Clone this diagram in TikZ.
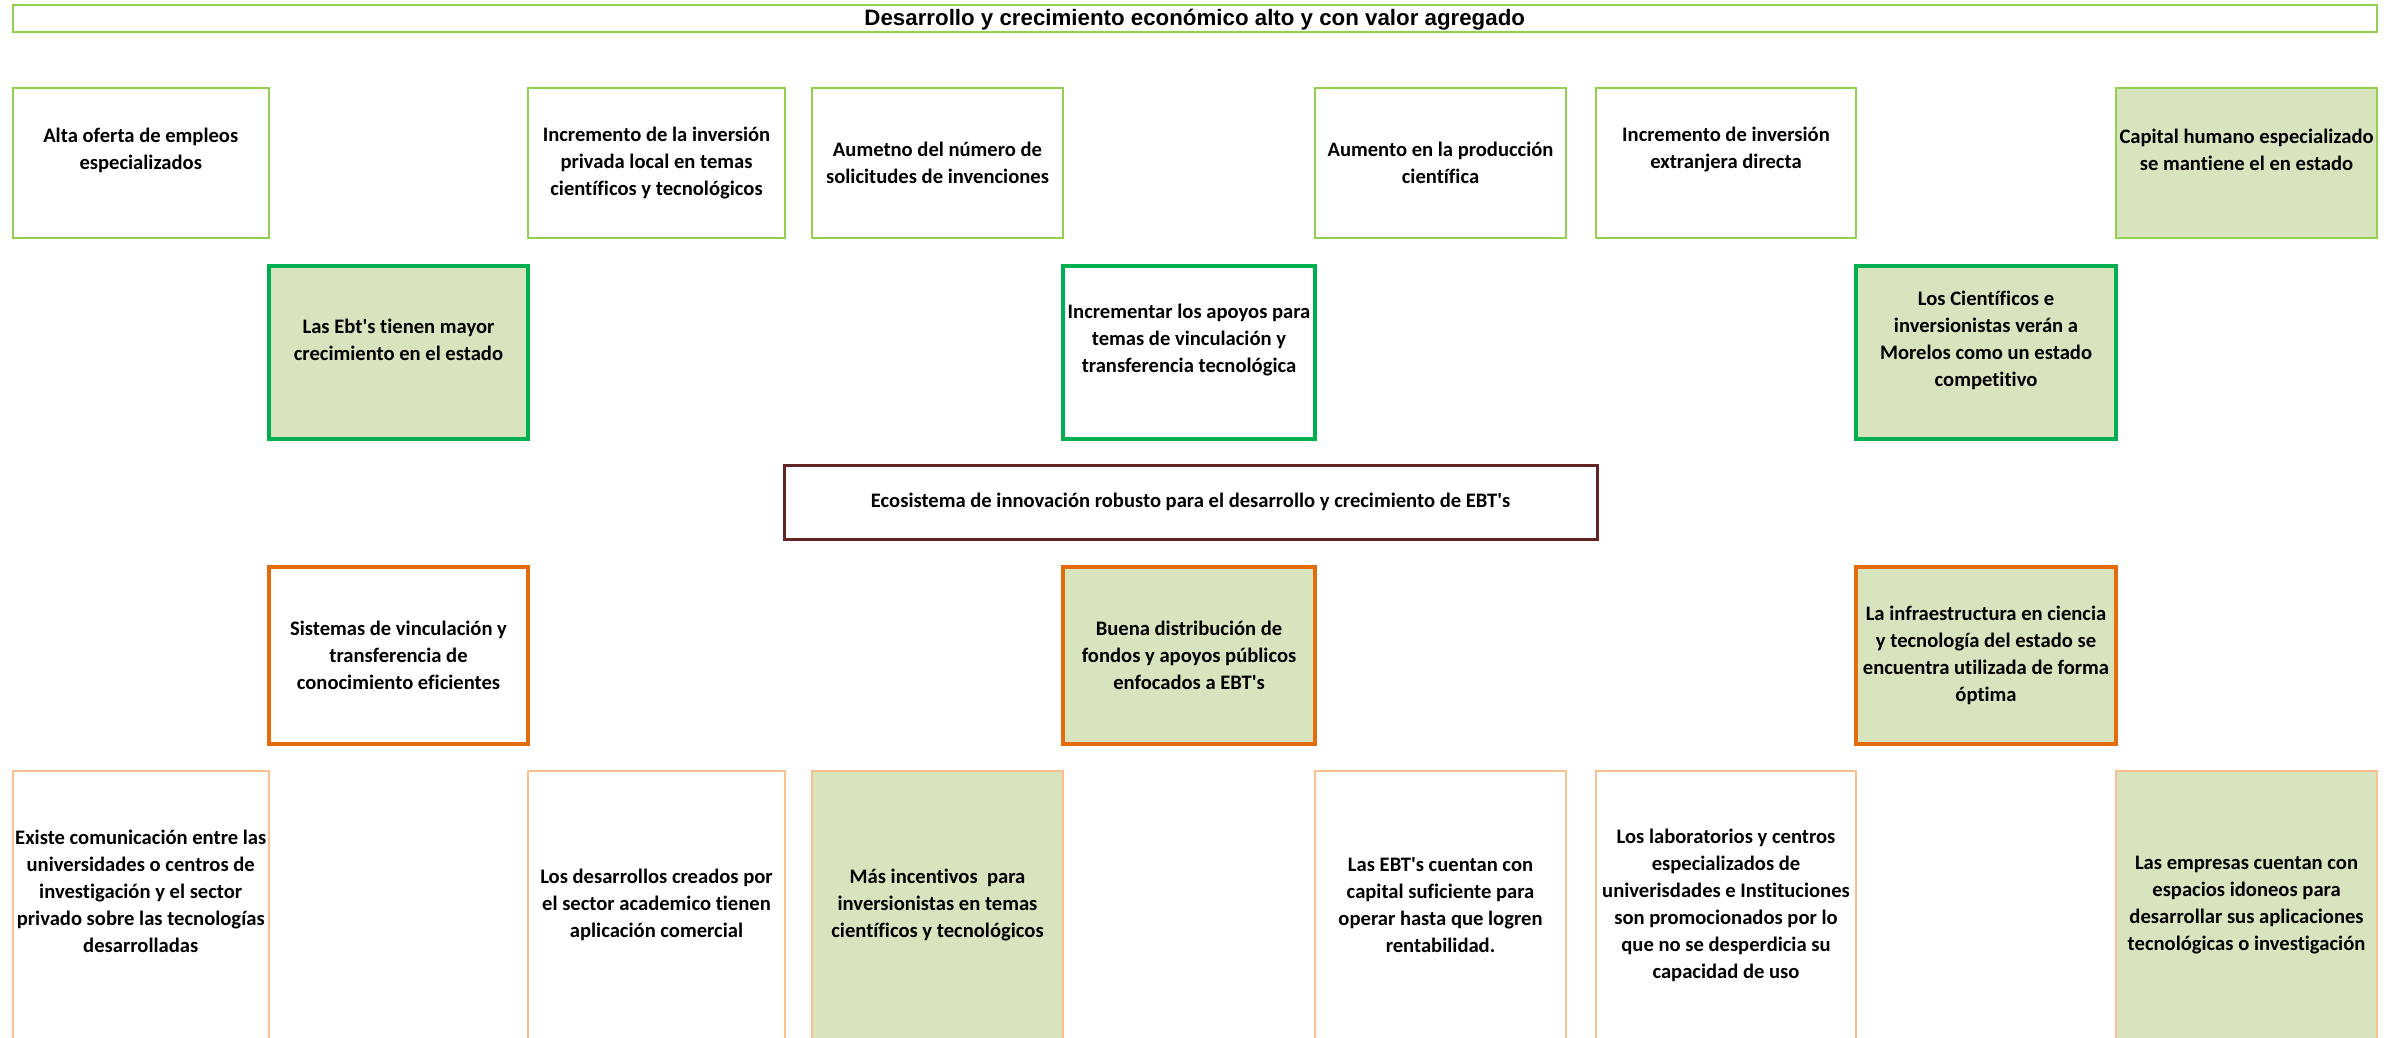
\documentclass[tikz,border=0pt]{standalone}
\usepackage{fontspec}
\setmainfont{Carlito}[Ligatures=NoCommon]
\newfontfamily\titlefont{Liberation Sans}
\definecolor{lgreen}{HTML}{92D050}
\definecolor{dgreen}{HTML}{00B050}
\definecolor{wine}{HTML}{632523}
\definecolor{dorange}{HTML}{E46C0A}
\definecolor{lorange}{HTML}{FAC090}
\definecolor{olivefill}{HTML}{D7E4BD}
\newcommand{\ap}{\textquotesingle}
\tikzset{
  box/.style={draw, rectangle, inner sep=0pt, outer sep=0pt, fill=white},
  hit/.style={fill=olivefill},
  goalbox/.style={box, draw=lgreen, line width=2pt, minimum height=150pt},
  keybox/.style={box, draw=dgreen, line width=4pt, minimum height=173pt},
  corebox/.style={box, draw=wine, line width=3pt, minimum height=74pt},
  causebox/.style={box, draw=dorange, line width=4pt, minimum height=177pt},
  rootbox/.style={box, draw=lorange, line width=2pt, minimum height=268pt},
  txt/.style={align=center, inner sep=0pt, font=\bfseries\fontsize{20.6}{27}\selectfont},
  titletxt/.style={inner sep=0pt, font=\titlefont\bfseries\fontsize{22.3}{26}\selectfont}
}
\begin{document}
\begin{tikzpicture}[x=1pt, y=-1pt]
\useasboundingbox (0,0) rectangle (2392,1037);
\clip (0,0) rectangle (2392,1037);
% fin
\node[goalbox, minimum width=2364.5pt, minimum height=27pt] (fin) at (1194.75,18.5) {};
\node[titletxt] (fin-t) at ([yshift=-1.5pt]fin.center) {Desarrollo y crecimiento económico alto y con valor agregado};
% efectos
\node[goalbox, minimum width=256.5pt] (empleo) at (140.75,163) {};
\node[txt] (empleo-t) at ([yshift=13pt]empleo.center) {Alta oferta de empleos\\especializados};
\node[goalbox, minimum width=257pt] (privada) at (656.5,163) {};
\node[txt] (privada-t) at (privada.center) {Incremento de la inversión\\privada local en temas\\científicos y tecnológicos};
\node[goalbox, minimum width=251pt] (patente) at (937.5,163) {};
\node[txt] (patente-t) at (patente.center) {Aumetno del número de\\solicitudes de invenciones};
\node[goalbox, minimum width=251pt] (produccion) at (1440.5,163) {};
\node[txt] (produccion-t) at (produccion.center) {Aumento en la producción\\científica};
\node[goalbox, minimum width=260pt] (extranjera) at (1726,163) {};
\node[txt] (extranjera-t) at ([yshift=13pt]extranjera.center) {Incremento de inversión\\extranjera directa};
\node[goalbox, hit, minimum width=261pt] (capital) at (2246.5,163) {};
\node[txt] (capital-t) at ([yshift=13pt]capital.center) {Capital humano especializado\\se mantiene el en estado};
% efectos directos
\node[keybox, hit, minimum width=259pt] (ebt) at (398.5,352.5) {};
\node[txt] (ebt-t) at ([yshift=12.5pt]ebt.center) {Las Ebt\ap s tienen mayor\\crecimiento en el estado};
\node[keybox, minimum width=252pt] (apoyos) at (1189,352.5) {};
\node[txt] (apoyos-t) at ([yshift=12.5pt]apoyos.center) {Incrementar los apoyos para\\temas de vinculación y\\transferencia tecnológica};
\node[keybox, hit, minimum width=260pt] (morelos) at (1986,352.5) {};
\node[txt] (morelos-t) at ([yshift=12.5pt]morelos.center) {Los Científicos e\\inversionistas verán a\\Morelos como un estado\\competitivo};
% objetivo central
\node[corebox, minimum width=813pt] (eco) at (1190.5,502) {};
\node[txt] (eco-t) at (eco.center) {Ecosistema de innovación robusto para el desarrollo y crecimiento de EBT\ap s};
% medios
\node[causebox, minimum width=259pt] (vinc) at (398.5,655.5) {};
\node[txt] (vinc-t) at (vinc.center) {Sistemas de vinculación y\\transferencia de\\conocimiento eficientes};
\node[causebox, hit, minimum width=252pt] (fondos) at (1189,655.5) {};
\node[txt] (fondos-t) at (fondos.center) {Buena distribución de\\fondos y apoyos públicos\\enfocados a EBT\ap s};
\node[causebox, hit, minimum width=260pt] (infra) at (1986,655.5) {};
\node[txt] (infra-t) at (infra.center) {La infraestructura en ciencia\\y tecnología del estado se\\encuentra utilizada de forma\\óptima};
% medios fundamentales
\node[rootbox, minimum width=256.5pt] (comun) at (140.75,905) {};
\node[txt] (comun-t) at ([yshift=14pt]comun.center) {Existe comunicación entre las\\universidades o centros de\\investigación y el sector\\privado sobre las tecnologías\\desarrolladas};
\node[rootbox, minimum width=257pt] (academia) at (656.5,905) {};
\node[txt] (academia-t) at (academia.center) {Los desarrollos creados por\\el sector academico tienen\\aplicación comercial};
\node[rootbox, hit, minimum width=251pt] (incent) at (937.5,905) {};
\node[txt] (incent-t) at (incent.center) {Más incentivos\ \ para\\inversionistas en temas\\científicos y tecnológicos};
\node[rootbox, minimum width=251pt] (liquidez) at (1440.5,905) {};
\node[txt] (liquidez-t) at (liquidez.center) {Las EBT\ap s cuentan con\\capital suficiente para\\operar hasta que logren\\rentabilidad.};
\node[rootbox, minimum width=260pt] (labs) at (1726,905) {};
\node[txt] (labs-t) at (labs.center) {Los laboratorios y centros\\especializados de\\univerisdades e Instituciones\\son promocionados por lo\\que no se desperdicia su\\capacidad de uso};
\node[rootbox, hit, minimum width=261pt] (espacios) at (2246.5,905) {};
\node[txt] (espacios-t) at (espacios.center) {Las empresas cuentan con\\espacios idoneos para\\desarrollar sus aplicaciones\\tecnológicas o investigación};
\end{tikzpicture}
\end{document}
